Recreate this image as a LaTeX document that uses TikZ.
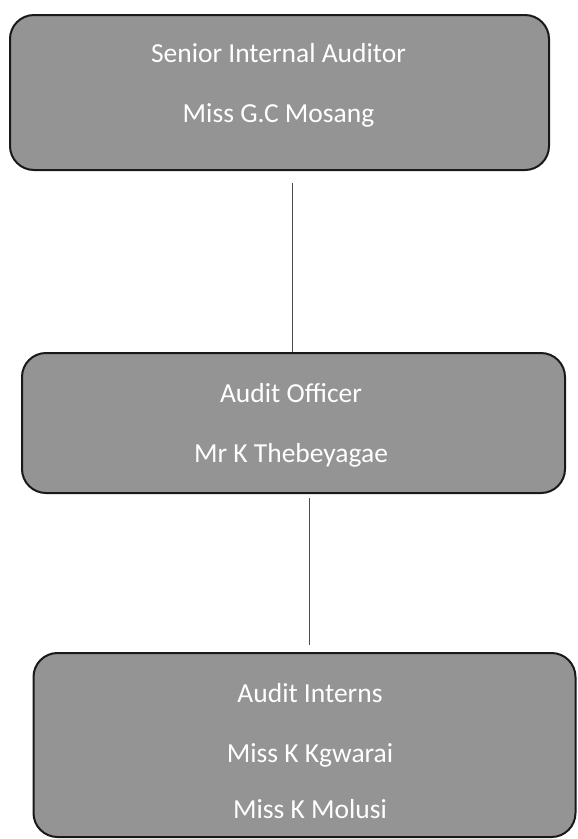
\documentclass[tikz,border=0pt]{standalone}
\usepackage{fontspec}
\setmainfont{Carlito}
\tikzset{
  box/.style={draw=black!90, line width=2pt, fill=black!42, rounded corners=24pt, inner sep=0pt},
  conn/.style={draw=black!70, line width=0.8pt},
  lbl/.style={font=\fontsize{27.5}{33}\selectfont, text=white, inner sep=0pt, anchor=base}
}
\begin{document}
\begin{tikzpicture}[x=1pt,y=-1pt]
\useasboundingbox (0,0) rectangle (578,839);
% boxes
\node[box, minimum width=539pt, minimum height=155pt] (b1) at (279.5,92.5) {};
\node[box, minimum width=543pt, minimum height=140pt] (b2) at (293.5,423) {};
\node[box, minimum width=542pt, minimum height=184pt] (b3) at (304.5,745) {};
% texts
\node[lbl] (t11) at (278.5,62) {Senior Internal Auditor};
\node[lbl] (t12) at (278.5,122) {Miss G.C Mosang};
\node[lbl] (t21) at (291,402) {Audit Officer};
\node[lbl] (t22) at (291,462) {Mr K Thebeyagae};
\node[lbl] (t31) at (310,702) {Audit Interns};
\node[lbl] (t32) at (310,762) {Miss K Kgwarai};
\node[lbl] (t33) at (310,818) {Miss K Molusi};
% connectors
\coordinate (c1) at (292,183);
\draw[conn] (c1) -- (c1 |- b2.north);
\coordinate (c2) at (309,498);
\coordinate (c3) at (309,645);
\draw[conn] (c2) -- (c3);
\end{tikzpicture}
\end{document}
